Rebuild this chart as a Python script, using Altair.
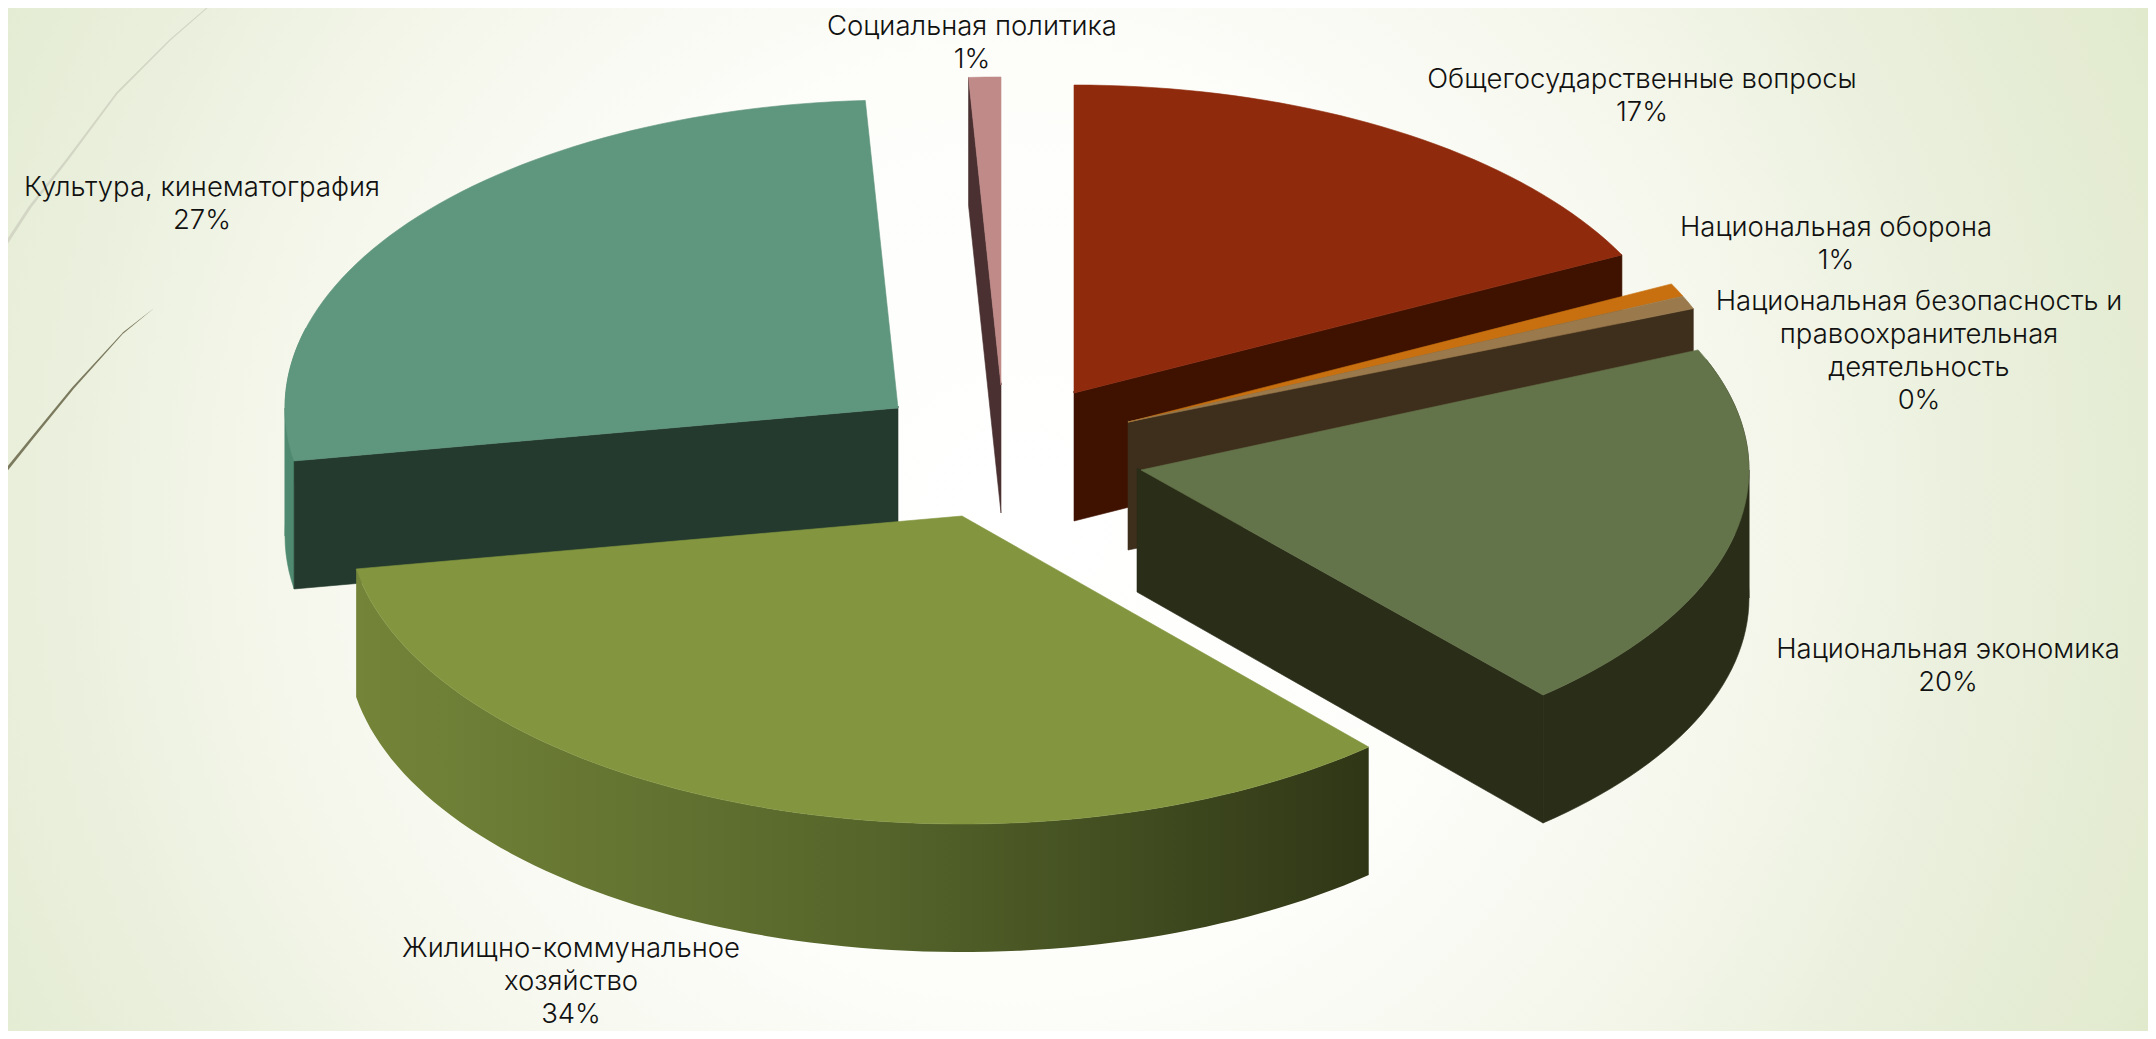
import math
import altair as alt
import pandas as pd

# ---------- values ----------
categories = ["Общегосударственные вопросы", "Национальная оборона",
              "Национальная безопасность и правоохранительная деятельность",
              "Национальная экономика", "Жилищно-коммунальное хозяйство",
              "Культура, кинематография", "Социальная политика"]
shares = [17.6, 0.7, 0.7, 19.5, 33.75, 26.9, 0.85]
label_lines = [["Общегосударственные вопросы", "17%"],
               ["Национальная оборона", "1%"],
               ["Национальная безопасность и", "правоохранительная", "деятельность", "0%"],
               ["Национальная экономика", "20%"],
               ["Жилищно-коммунальное", "хозяйство", "34%"],
               ["Культура, кинематография", "27%"],
               ["Социальная политика", "1%"]]

# ---------- layout (image pixels) ----------
W, H = 2140, 1023
DEPTH = 128
rx = [613, 608, 608, 608, 615, 613, 608]
ry = [308, 308, 308, 300, 308, 308, 308]
start_shift = [0, 0, 0, -2, 0, 0, 0]
apex = [(1074, 393), (1128, 422), (1128, 422), (1141, 470), (962, 516), (898, 408), (1001, 385)]
top_col = ["#8f2a0c", "#c8700f", "#9a7a4c", "#64744a", "#83963f", "#5f967e", "#c08a88"]
side_col = ["#3f1200", "#3e2e1c", "#3e2e1c", "#2a2e19", "#333a18", "#243a2e", "#4a3030"]
label_x = [1642, 1836, 1919, 1948, 571, 202, 972]
label_y = [80, 228, 302, 650, 949, 188, 27]
LINE = 33

edges = [0.0]
for s in shares:
    edges.append(edges[-1] + s * 3.6)


def pt(i, t, dy=0):
    a = apex[i]
    r = math.radians(t)
    return (a[0] + rx[i] * math.sin(r), a[1] - ry[i] * math.cos(r) + dy)


def arc(i, t0, t1, dy=0):
    n = max(2, int(abs(t1 - t0) / 1.5))
    return [pt(i, t0 + (t1 - t0) * k / n, dy) for k in range(n + 1)]


x_scale = alt.Scale(domain=[8, 8 + W], range=[0, W], nice=False, zero=False)
y_scale = alt.Scale(domain=[8 + H, 8], range=[H, 0], nice=False, zero=False)


def poly(points, fill):
    df = pd.DataFrame({"x": [p[0] for p in points], "y": [p[1] for p in points],
                       "o": list(range(len(points)))})
    is_col = isinstance(fill, str)
    return alt.Chart(df).mark_line(interpolate="linear-closed", fill=fill,
                                   stroke=fill if is_col else "#55622a",
                                   strokeWidth=0.6 if is_col else 0).encode(
        x=alt.X("x:Q", scale=x_scale, axis=None),
        y=alt.Y("y:Q", scale=y_scale, axis=None),
        order="o:Q")


def top(i):
    return poly([apex[i]] + arc(i, edges[i] + start_shift[i], edges[i + 1]), top_col[i])


def end_face(i, t, col, ax=0, ddepth=0):
    a = apex[i]
    p = pt(i, t)
    return poly([(a[0] + ax, a[1] - 2), a, p, (p[0], p[1] + DEPTH),
                 (a[0] + ax, a[1] + DEPTH + ddepth)], col)


def rim(i, t0, t1, col):
    return poly(arc(i, t0, t1) + arc(i, t1, t0, DEPTH), col)


bg = alt.Chart(pd.DataFrame({"x": [8], "x2": [8 + W], "y": [8], "y2": [8 + H]})).mark_rect(
    fill=alt.Gradient(gradient="radial", x1=0.47, y1=0.5, r1=0.0, x2=0.47, y2=0.5, r2=0.62,
                      stops=[alt.GradientStop(offset=0, color="#ffffff"),
                             alt.GradientStop(offset=0.35, color="#fdfdfa"),
                             alt.GradientStop(offset=0.55, color="#f5f7ec"),
                             alt.GradientStop(offset=0.75, color="#e9efdb"),
                             alt.GradientStop(offset=1, color="#dfe8c9")])
).encode(x=alt.X("x:Q", scale=x_scale, axis=None), x2="x2:Q",
         y=alt.Y("y:Q", scale=y_scale, axis=None), y2="y2:Q")


def curve(xs, ys, ws, col):
    df = pd.DataFrame({"x": xs, "y": ys, "w": ws, "o": list(range(len(xs)))})
    return alt.Chart(df).mark_trail(color=col).encode(
        x=alt.X("x:Q", scale=x_scale, axis=None),
        y=alt.Y("y:Q", scale=y_scale, axis=None),
        size=alt.Size("w:Q", legend=None, scale=alt.Scale(domain=[0, 4], range=[0, 4])),
        order="o:Q")


light = curve([216, 170, 117, 67, 30, 0], [0, 40, 93, 160, 207, 253],
              [1.0, 1.3, 1.8, 2.3, 2.8, 3.0], "#d3d6c4")
dark = curve([153, 123, 73, 33, 0], [309, 333, 388, 437, 478],
             [0.2, 1.0, 2.0, 2.5, 3.0], "#7c7a5e")

housing_grad = alt.Gradient(gradient="linear", x1=0, y1=0, x2=1, y2=0,
                            stops=[alt.GradientStop(offset=0, color="#748539"),
                                   alt.GradientStop(offset=0.5, color="#56662b"),
                                   alt.GradientStop(offset=1, color="#2f3616")])

layers = [bg, light, dark,
          rim(5, edges[5], 270, "#4f8a70"), rim(5, 270, 285, "#4f8a70"),
          end_face(5, edges[5], side_col[5]), top(5),
          end_face(6, edges[6], side_col[6]), top(6),
          end_face(0, edges[1], side_col[0]), top(0),
          end_face(1, edges[3], side_col[1]), top(1), top(2),
          rim(3, edges[3], 90, side_col[3]), rim(3, 90, edges[4], side_col[3]),
          end_face(3, edges[4], side_col[3], ax=-4, ddepth=-6), top(3),
          rim(4, edges[4], edges[5], housing_grad), top(4)]

rows = []
for lx, ly, lines in zip(label_x, label_y, label_lines):
    for j, s in enumerate(lines):
        rows.append({"x": lx, "y": ly + j * LINE, "t": s})
text = alt.Chart(pd.DataFrame(rows)).mark_text(
    font="Inter", fontSize=27.5, fontWeight=300, color="#111111", align="center", baseline="middle"
).encode(x=alt.X("x:Q", scale=x_scale, axis=None),
         y=alt.Y("y:Q", scale=y_scale, axis=None), text="t:N")
layers.append(text)

chart = alt.layer(*layers).properties(
    width=W, height=H, padding=0, autosize=alt.AutoSizeParams(type="none")
).configure_view(stroke=None)

chart.save("out.html", embed_options={"renderer": "svg", "actions": False})
